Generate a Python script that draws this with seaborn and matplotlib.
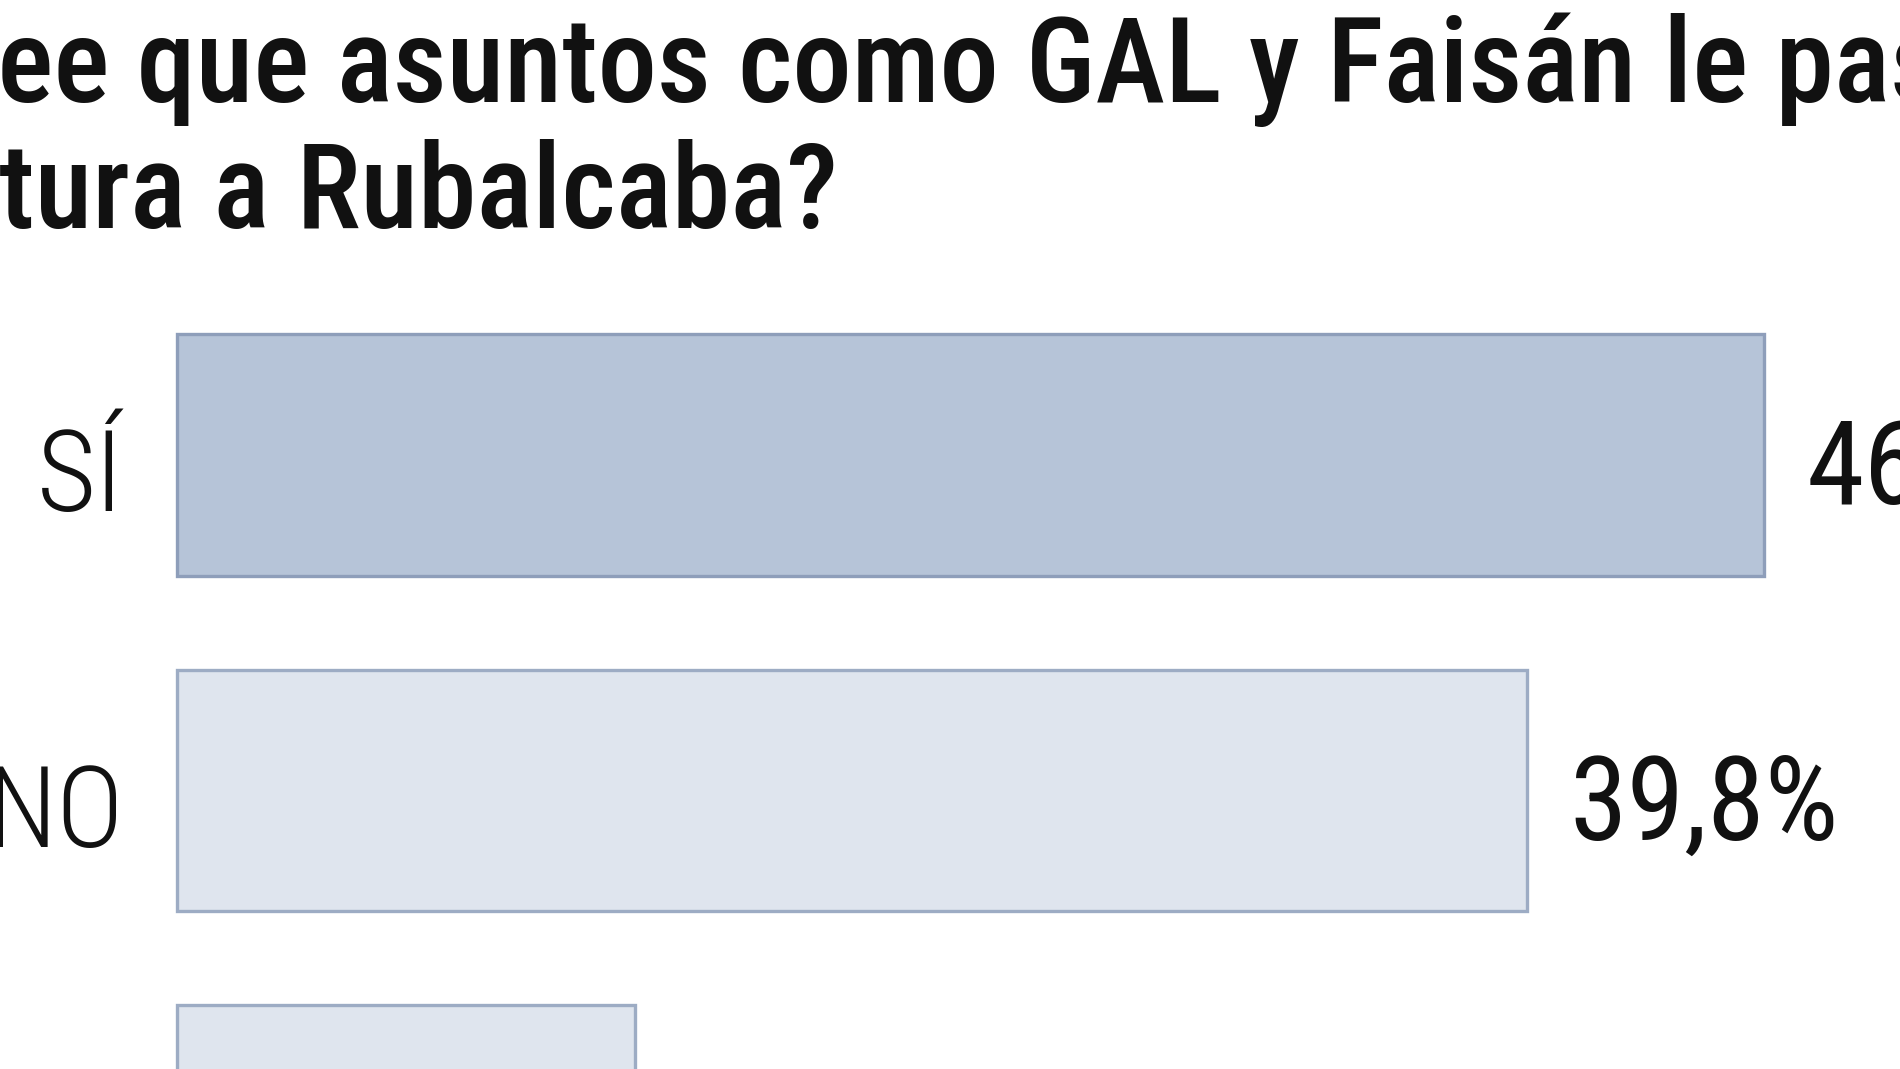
import matplotlib
matplotlib.use("Agg")
import matplotlib.pyplot as plt
import seaborn as sns
import pandas as pd

# ---- data ----
respuestas = ["SÍ", "NO", "NS/NC"]
porcentajes = [46.8, 39.8, 13.5]
etiquetas = ["46,8%", "39,8%", "13,5%"]
titulo_l1 = "¿Cree que asuntos como GAL y Faisán le pasarán"
titulo_l2 = "factura a Rubalcaba?"

# ---- style ----
colores_relleno = ["#b6c4d8", "#dfe5ee", "#dfe5ee"]
colores_borde = ["#8e9eba", "#9dacc4", "#9dacc4"]
FUENTE = "Roboto Condensed"

sns.set_theme(style="white")
plt.rcParams["font.family"] = [FUENTE, "DejaVu Sans"]

W, H, DPI = 1900, 1069, 100
PT = 72.0 / DPI  # points per pixel

fig = plt.figure(figsize=(W / DPI, H / DPI), dpi=DPI, facecolor="white")
ax = fig.add_axes([0, 0, 1, 1])

df = pd.DataFrame({"respuesta": respuestas, "porcentaje": porcentajes})
sns.barplot(data=df, x="porcentaje", y="respuesta", hue="respuesta",
            palette=colores_relleno, legend=False, orient="h", width=0.72,
            saturation=1, linewidth=2.4, ax=ax)
for cont, ec in zip(ax.containers, colores_borde):
    for p in cont:
        p.set_edgecolor(ec)

# map data to the cropped frame of the reference
x0_px, x_ref_px = 177, 1527           # pixel of value 0 and of NO bar end
px_per_unit = (x_ref_px - x0_px) / porcentajes[1]
ax.set_xlim(-x0_px / px_per_unit, (W - x0_px) / px_per_unit)
centro0, paso = 455, 335.5
ax.set_ylim((H - centro0) / paso, -centro0 / paso)
ax.set_axis_off()

for i, (r, v, e) in enumerate(zip(respuestas, porcentajes, etiquetas)):
    ax.annotate(r, xy=(0, i), xytext=(-53 * PT, -56 * PT), textcoords="offset points",
                ha="right", va="baseline", fontsize=82, fontweight=300,
                color="#111111", annotation_clip=False)
    ax.annotate(e, xy=(v, i), xytext=(42 * PT, -49 * PT), textcoords="offset points",
                ha="left", va="baseline", fontsize=84, fontweight=400,
                color="#111111", annotation_clip=False)

# title (cropped at the left edge like the reference)
fp = dict(fontsize=85, fontweight=500, color="#111111")
renderer = fig.canvas.get_renderer()


def ancho(s):
    t = fig.text(0, 0, s, **fp)
    w = t.get_window_extent(renderer).width
    t.remove()
    return w


off1 = ancho(titulo_l1) - ancho(titulo_l1[3:])
off2 = ancho(titulo_l2) - ancho(titulo_l2[3:])
fig.text((-3 - off1) / W, 1 - 102 / H, titulo_l1, ha="left", va="baseline", **fp)
fig.text((-1 - off2) / W, 1 - 228 / H, titulo_l2, ha="left", va="baseline", **fp)

fig.savefig("out.png", dpi=DPI, facecolor="white")
